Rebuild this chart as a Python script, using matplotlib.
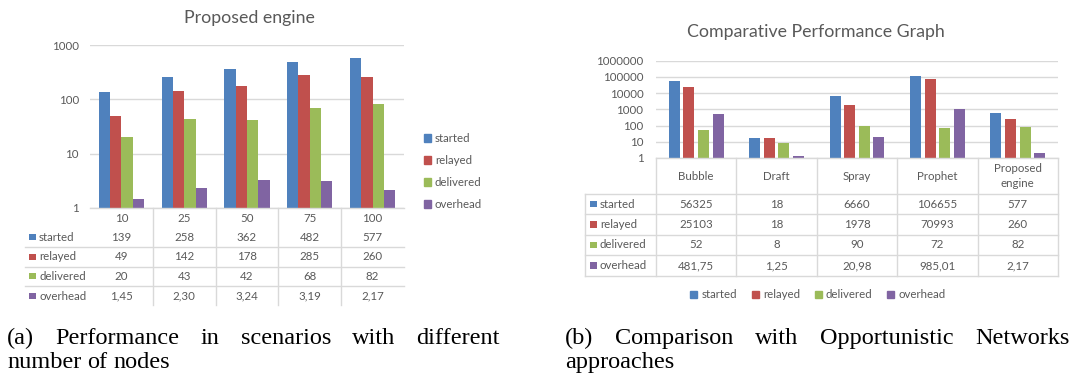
import matplotlib
matplotlib.use('Agg')
import matplotlib.pyplot as plt
from matplotlib.patches import Patch, Rectangle
from matplotlib.lines import Line2D
from matplotlib.ticker import FuncFormatter, NullLocator, FixedLocator
import matplotlib.transforms as mtrans
import numpy as np

# ---------------- data ----------------
series = ['started', 'relayed', 'delivered', 'overhead']
colors = ['#4F81BD', '#C0504D', '#9BBB59', '#8064A2']

nodes = ['10', '25', '50', '75', '100']
nodes_started = [139, 258, 362, 482, 577]
nodes_relayed = [49, 142, 178, 285, 260]
nodes_delivered = [20, 43, 42, 68, 82]
nodes_overhead = [1.45, 2.30, 3.24, 3.19, 2.17]

approaches = ['Bubble', 'Draft', 'Spray', 'Prophet', 'Proposed\nengine']
appr_started = [56325, 18, 6660, 106655, 577]
appr_relayed = [25103, 18, 1978, 70993, 260]
appr_delivered = [52, 8, 90, 72, 82]
appr_overhead = [481.75, 1.25, 20.98, 985.01, 2.17]

left_ticks = [1, 10, 100, 1000]
right_ticks = [1, 10, 100, 1000, 10000, 100000, 1000000]

title_left = 'Proposed engine'
title_right = 'Comparative Performance Graph'
caption_a = ['(a) Performance in scenarios with different', 'number of nodes']
caption_b = ['(b) Comparison with Opportunistic Networks', 'approaches']

# ---------------- style ----------------
W, H = 1078, 380
DPI = 100
TXT = '#595959'
GRID = '#D9D9D9'
FONT = 'Lato'
FS = 8.3
plt.rcParams['font.family'] = [FONT, 'DejaVu Sans']

fig = plt.figure(figsize=(W / DPI, H / DPI), dpi=DPI)
fig.patch.set_facecolor('white')


def fx(x):
    return x / W


def fy(y):
    return 1 - y / H


def fmt_val(v):
    if isinstance(v, float):
        return f'{v:.2f}'.replace('.', ',')
    return str(v)


def style_axes(ax, ticks, ncat):
    ax.set_yscale('log')
    ax.set_ylim(ticks[0], ticks[-1])
    ax.set_xlim(-0.5, ncat - 0.5)
    ax.yaxis.set_major_locator(FixedLocator(ticks))
    ax.yaxis.set_minor_locator(NullLocator())
    ax.yaxis.set_major_formatter(FuncFormatter(lambda v, _: f'{int(round(v))}'))
    ax.set_xticks([])
    ax.yaxis.grid(True, color=GRID, lw=1)
    ax.set_axisbelow(True)
    for s in ['top', 'left', 'right']:
        ax.spines[s].set_visible(False)
    ax.spines['bottom'].set_color(GRID)
    ax.spines['bottom'].set_linewidth(1)
    ax.tick_params(axis='y', length=0, labelsize=FS, labelcolor=TXT)
    ax.patch.set_alpha(0)


def draw_bars(ax, data, width, pitch):
    x = np.arange(len(data[0]))
    for i, (vals, c) in enumerate(zip(data, colors)):
        ax.bar(x + (i - 1.5) * pitch, vals, width, color=c, label=series[i],
               edgecolor='none')


def hline(x0, x1, y):
    fig.add_artist(Line2D([fx(x0), fx(x1)], [fy(y), fy(y)], color=GRID, lw=1,
                          transform=fig.transFigure))


def row_label(xsq, xtxt, yc, name, c):
    fig.add_artist(Rectangle((fx(xsq), fy(yc + 3.3)), 6.6 / W, 6.6 / H,
                             transform=fig.transFigure, color=c, lw=0))
    fig.text(fx(xtxt), fy(yc), name, ha='left', va='center', fontsize=FS, color=TXT)


# ---------------- left chart ----------------
axL = fig.add_axes([fx(90), fy(208), (404 - 90) / W, (208 - 45) / H])
left_data = [nodes_started, nodes_relayed, nodes_delivered, nodes_overhead]
draw_bars(axL, left_data, 0.18, 0.18)
style_axes(axL, left_ticks, len(nodes))
axL.tick_params(axis='y', pad=8)
fig.text(fx(249), fy(18), title_left, ha='center', va='center', fontsize=12.8, color=TXT)

blendL = mtrans.blended_transform_factory(axL.transData, fig.transFigure)
for i, lab in enumerate(nodes):
    axL.text(i, fy(218), lab, transform=blendL, ha='center', va='center',
             fontsize=FS, color=TXT)
rowsL = [237, 257, 276, 296]
for vals, name, c, yc in zip(left_data, series, colors, rowsL):
    row_label(29, 39, yc, name, c)
    for i, v in enumerate(vals):
        axL.text(i, fy(yc), fmt_val(v), transform=blendL, ha='center', va='center',
                 fontsize=FS, color=TXT)
for y in [247, 267, 286]:
    hline(25, 404, y)
for i in range(len(nodes) - 1):
    fig.add_artist(Line2D([i + 0.5, i + 0.5], [fy(208), fy(305)], color=GRID, lw=1,
                          transform=blendL))

handles = [Patch(color=c) for c in colors]
axL.legend(handles, series, loc='center left', bbox_to_anchor=(fx(424), fy(171.5)),
           bbox_transform=fig.transFigure, frameon=False, handlelength=0.6,
           handleheight=0.6, handletextpad=0.35, labelspacing=0.95, borderpad=0,
           borderaxespad=0, fontsize=FS, labelcolor=TXT)

# ---------------- right chart ----------------
axR = fig.add_axes([fx(656), fy(158), (1058 - 656) / W, (158 - 60.7) / H])
right_data = [appr_started, appr_relayed, appr_delivered, appr_overhead]
draw_bars(axR, right_data, 0.137, 0.181)
style_axes(axR, right_ticks, len(approaches))
axR.tick_params(axis='y', pad=9)
fig.text(fx(816), fy(32.5), title_right, ha='center', va='center', fontsize=12.8, color=TXT)

blendR = mtrans.blended_transform_factory(axR.transData, fig.transFigure)
for i, lab in enumerate(approaches):
    axR.text(i, fy(176), lab, transform=blendR, ha='center', va='center',
             fontsize=FS, color=TXT, linespacing=1.45, multialignment='center')
rowsR = [204, 224.5, 245, 265.5]
for vals, name, c, yc in zip(right_data, series, colors, rowsR):
    row_label(590, 600, yc, name, c)
    for i, v in enumerate(vals):
        axR.text(i, fy(yc), fmt_val(v), transform=blendR, ha='center', va='center',
                 fontsize=FS, color=TXT)
for y in [194, 214, 235, 255, 276]:
    hline(585, 1058, y)
for i in range(len(approaches) + 1):
    fig.add_artist(Line2D([i - 0.5, i - 0.5], [fy(158), fy(276)], color=GRID, lw=1,
                          transform=blendR))
fig.add_artist(Line2D([fx(585), fx(585)], [fy(194), fy(276)], color=GRID, lw=1,
                      transform=fig.transFigure))

axR.legend(handles, series, loc='center', bbox_to_anchor=(fx(818), fy(295)),
           bbox_transform=fig.transFigure, frameon=False, ncol=4, handlelength=0.6,
           handleheight=0.6, handletextpad=0.35, columnspacing=1.3, borderpad=0,
           borderaxespad=0, fontsize=FS, labelcolor=TXT)

# ---------------- captions ----------------
CAP_FS = 17.5
renderer = fig.canvas.get_renderer()


def caption_line(text, x0, x1, ybase, justify):
    words = text.split(' ')
    ts = [fig.text(0, fy(ybase), w, ha='left', va='baseline', fontsize=CAP_FS,
                   family=['Liberation Serif', 'DejaVu Serif'], color='black')
          for w in words]
    widths = [t.get_window_extent(renderer).width for t in ts]
    if justify and len(ts) > 1:
        gap = (x1 - x0 - sum(widths)) / (len(ts) - 1)
    else:
        gap = CAP_FS * 0.25 * DPI / 72
    x = x0
    for t, w in zip(ts, widths):
        t.set_x(fx(x))
        x += w + gap


caption_line(caption_a[0], 7, 500, 344, True)
caption_line(caption_a[1], 7, 500, 368, False)
caption_line(caption_b[0], 565, 1070, 344, True)
caption_line(caption_b[1], 565, 1070, 368, False)

fig.savefig('out.png', dpi=DPI, facecolor='white')
